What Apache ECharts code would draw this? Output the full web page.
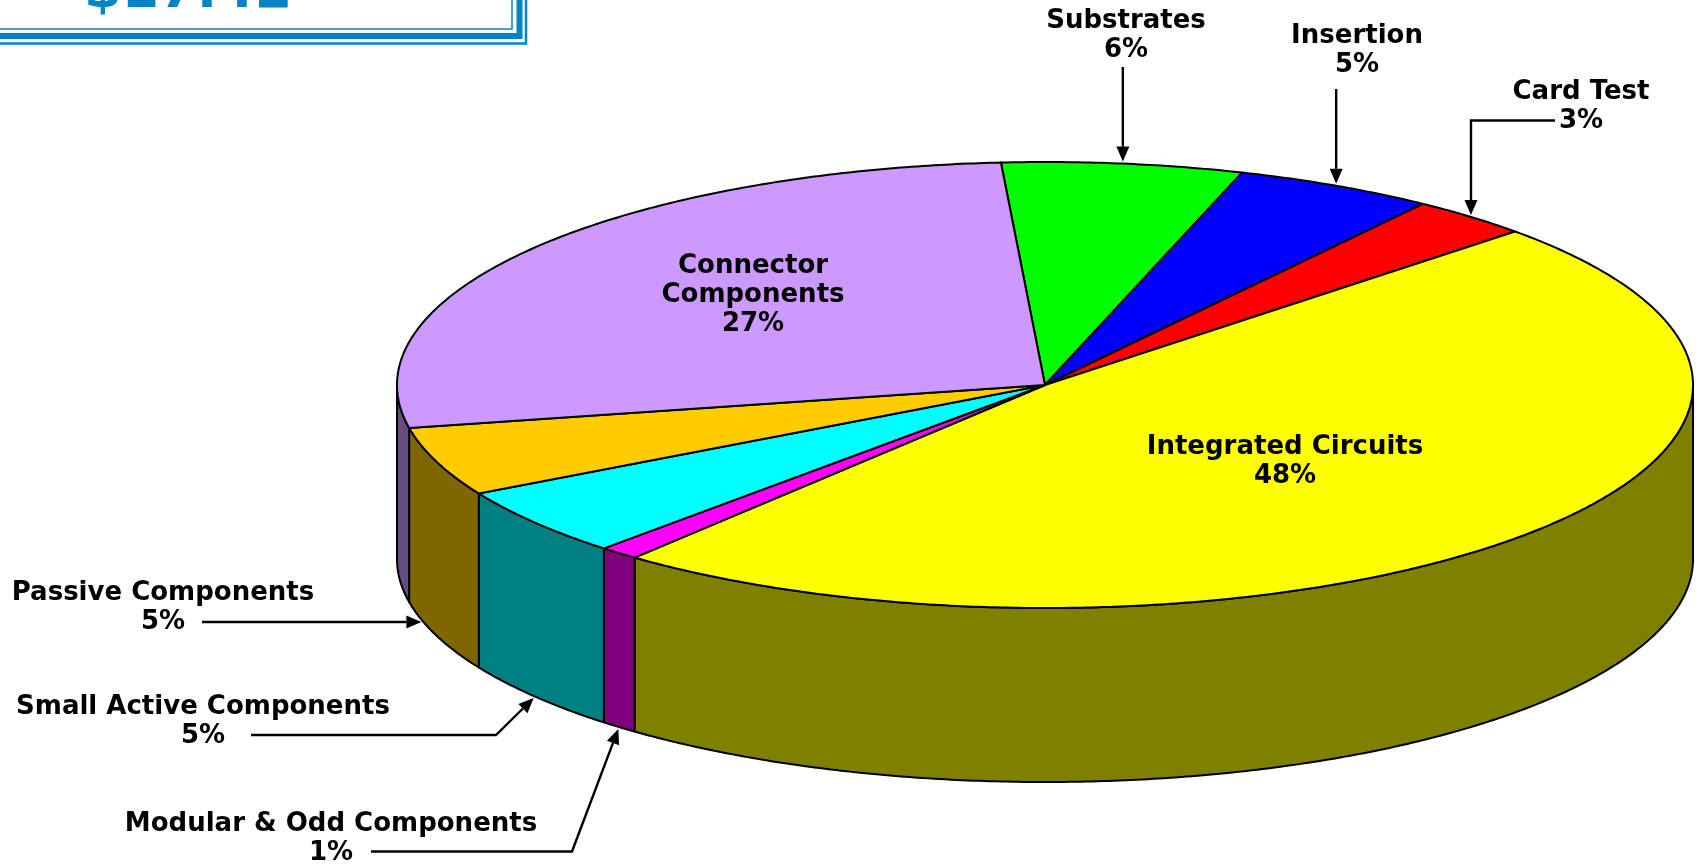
<!DOCTYPE html>
<html>
<head>
<meta charset="utf-8">
<script src="https://cdn.jsdelivr.net/npm/echarts@6/dist/echarts.min.js"></script>
<style>
  html, body { margin: 0; padding: 0; background: #ffffff; }
  #chart { width: 1703px; height: 865px; }
</style>
</head>
<body>
<div id="chart"></div>
<script>
// Cost shares (%), listed clockwise starting at the top of the pie
const categories = [
  'Substrates',
  'Insertion',
  'Card Test',
  'Integrated Circuits',
  'Modular & Odd Components',
  'Small Active Components',
  'Passive Components',
  'Connector Components'
];
const shares = [6, 5, 3, 48, 1, 5, 5, 27];
const headline = '$17.42';

// Face colours: lit top surface and shaded rim wall
const topColors  = ['#00FF00', '#0000FF', '#FF0000', '#FFFF00', '#FF00FF', '#00FFFF', '#FFCC00', '#CC99FF'];
const sideColors = ['#008000', '#000080', '#800000', '#808000', '#800080', '#008080', '#806600', '#664C80'];

// Tilted pie geometry (pixels / degrees clockwise from 12 o'clock)
const pie = { cx: 1045, cy: 385, rx: 648, ry: 223, depth: 174, startDeg: -3.9 };

// Label placement: text anchor plus the route of the arrowed leader line
const labelPlacement = {
  'Substrates':               { at: [1126, 36],  route: 'down',  from: [null, 67] },
  'Insertion':                { at: [1357, 51],  route: 'down',  from: [null, 89] },
  'Card Test':                { at: [1581, 107], route: 'hv',    from: [1555, 120.5] },
  'Integrated Circuits':      { at: [1285, 462], route: 'none' },
  'Modular & Odd Components': { at: [331, 839],  route: 'elbow', from: [371, 851.5], elbowX: 572 },
  'Small Active Components':  { at: [203, 722],  route: 'elbow', from: [251, 735], elbowX: 496 },
  'Passive Components':       { at: [163, 608],  route: 'horiz', from: [202, 622] },
  'Connector Components':     { at: [753, 295],  route: 'none' }
};

const FONT_FAMILY = '"DejaVu Sans", Verdana, sans-serif';
const OUTLINE = { stroke: '#000000', lineWidth: 2, lineJoin: 'round' };

// Slice angle ranges derived from the shares
const total = shares.reduce((a, b) => a + b, 0);
const sliceBounds = [];
(function () {
  let acc = pie.startDeg;
  shares.forEach(v => {
    const a0 = acc;
    acc += v / total * 360;
    sliceBounds.push([a0, acc]);
  });
})();

const rad = d => d * Math.PI / 180;
function rimPoint(deg, lower) {
  const t = rad(deg);
  return [pie.cx + pie.rx * Math.sin(t), pie.cy - pie.ry * Math.cos(t) + (lower ? pie.depth : 0)];
}
function arc(a0, a1, lower) {
  const n = Math.max(2, Math.ceil(Math.abs(a1 - a0) / 0.5));
  const pts = [];
  for (let k = 0; k <= n; k++) pts.push(rimPoint(a0 + (a1 - a0) * k / n, lower));
  return pts;
}

// Leader polyline ending in a filled arrow head
function leader(points) {
  const tip = points[points.length - 1];
  const prev = points[points.length - 2];
  const dx = tip[0] - prev[0], dy = tip[1] - prev[1];
  const len = Math.hypot(dx, dy) || 1;
  const ux = dx / len, uy = dy / len;
  const headLen = 15, headHalf = 6.5;
  const base = [tip[0] - ux * headLen, tip[1] - uy * headLen];
  return [
    { type: 'polyline', shape: { points: points.slice(0, -1).concat([base]) },
      style: { stroke: '#000000', lineWidth: 2.4, fill: null } },
    { type: 'polygon',
      shape: { points: [tip, [base[0] - uy * headHalf, base[1] + ux * headHalf], [base[0] + uy * headHalf, base[1] - ux * headHalf]] },
      style: { fill: '#000000' } }
  ];
}

function leaderPoints(i, place) {
  const [a0, a1] = sliceBounds[i];
  const mid = (a0 + a1) / 2;
  const front = Math.cos(rad(mid)) < 0;
  let rim = rimPoint(mid, front);
  let pts;
  if (place.route === 'down') {
    pts = [[rim[0], place.from[1]], rim];
  } else if (place.route === 'hv') {
    pts = [place.from, [rim[0], place.from[1]], rim];
  } else if (place.route === 'elbow') {
    pts = [place.from, [place.elbowX, place.from[1]], rim];
  } else {
    // horizontal leader: meet the lower rim of the slice at the leader's height
    const c = Math.max(-1, Math.min(1, (pie.cy + pie.depth - place.from[1]) / pie.ry));
    let ang = 360 - Math.acos(c) * 180 / Math.PI;
    ang = Math.max(a0, Math.min(a1, ang));
    rim = rimPoint(ang, true);
    pts = [place.from, [rim[0], place.from[1]]];
  }
  // keep the arrow tip a hair off the outline
  const tip = pts[pts.length - 1], prev = pts[pts.length - 2];
  const L = Math.hypot(tip[0] - prev[0], tip[1] - prev[1]) || 1;
  pts[pts.length - 1] = [tip[0] - (tip[0] - prev[0]) / L * 2, tip[1] - (tip[1] - prev[1]) / L * 2];
  return pts;
}

function renderSlice(params, api) {
  const i = params.dataIndex;
  const [a0, a1] = sliceBounds[i];
  const children = [];

  // rim wall on the near half of the pie
  const s0 = Math.max(a0, 90), s1 = Math.min(a1, 270);
  if (s1 > s0) {
    children.push({
      type: 'polygon',
      shape: { points: arc(s0, s1, false).concat(arc(s1, s0, true)) },
      style: Object.assign({ fill: sideColors[i] }, OUTLINE)
    });
  }
  // top face
  children.push({
    type: 'polygon',
    shape: { points: [[pie.cx, pie.cy]].concat(arc(a0, a1, false)) },
    style: Object.assign({ fill: topColors[i] }, OUTLINE)
  });

  // label
  const name = categories[i];
  const place = labelPlacement[name];
  const pct = api.value(0) + '%';
  const text = name === 'Connector Components' ? 'Connector\nComponents\n' + pct : name + '\n' + pct;
  children.push({
    type: 'text',
    x: place.at[0], y: place.at[1],
    style: {
      text: text,
      fontFamily: FONT_FAMILY, fontWeight: 'bold', fontSize: 26, lineHeight: 29,
      fill: '#000000', align: 'center', verticalAlign: 'middle'
    }
  });
  if (place.route !== 'none') {
    leader(leaderPoints(i, place)).forEach(el => children.push(el));
  }
  return { type: 'group', children: children };
}

const chart = echarts.init(document.getElementById('chart'), null, { renderer: 'canvas' });
chart.setOption({
  animation: false,
  backgroundColor: '#ffffff',
  graphic: [
    // framed headline box in the corner
    { type: 'polyline', shape: { points: [[-5, 29], [512, 29], [512, -5]] }, style: { stroke: '#0084C8', lineWidth: 1.5, fill: null } },
    { type: 'polyline', shape: { points: [[-5, 36], [519.5, 36], [519.5, -5]] }, style: { stroke: '#0084C8', lineWidth: 6, fill: null } },
    { type: 'polyline', shape: { points: [[-5, 43.5], [526, 43.5], [526, -5]] }, style: { stroke: '#0084C8', lineWidth: 2.5, fill: null } },
    { type: 'text', x: 84, y: -7,
      style: { text: headline, fontFamily: FONT_FAMILY, fontWeight: 'bold', fontSize: 54,
               fill: '#0084C8', align: 'left', verticalAlign: 'middle' } }
  ],
  series: [{
    type: 'custom',
    coordinateSystem: 'none',
    silent: true,
    renderItem: renderSlice,
    data: shares.map((v, i) => ({ name: categories[i], value: v }))
  }]
});
</script>
</body>
</html>
